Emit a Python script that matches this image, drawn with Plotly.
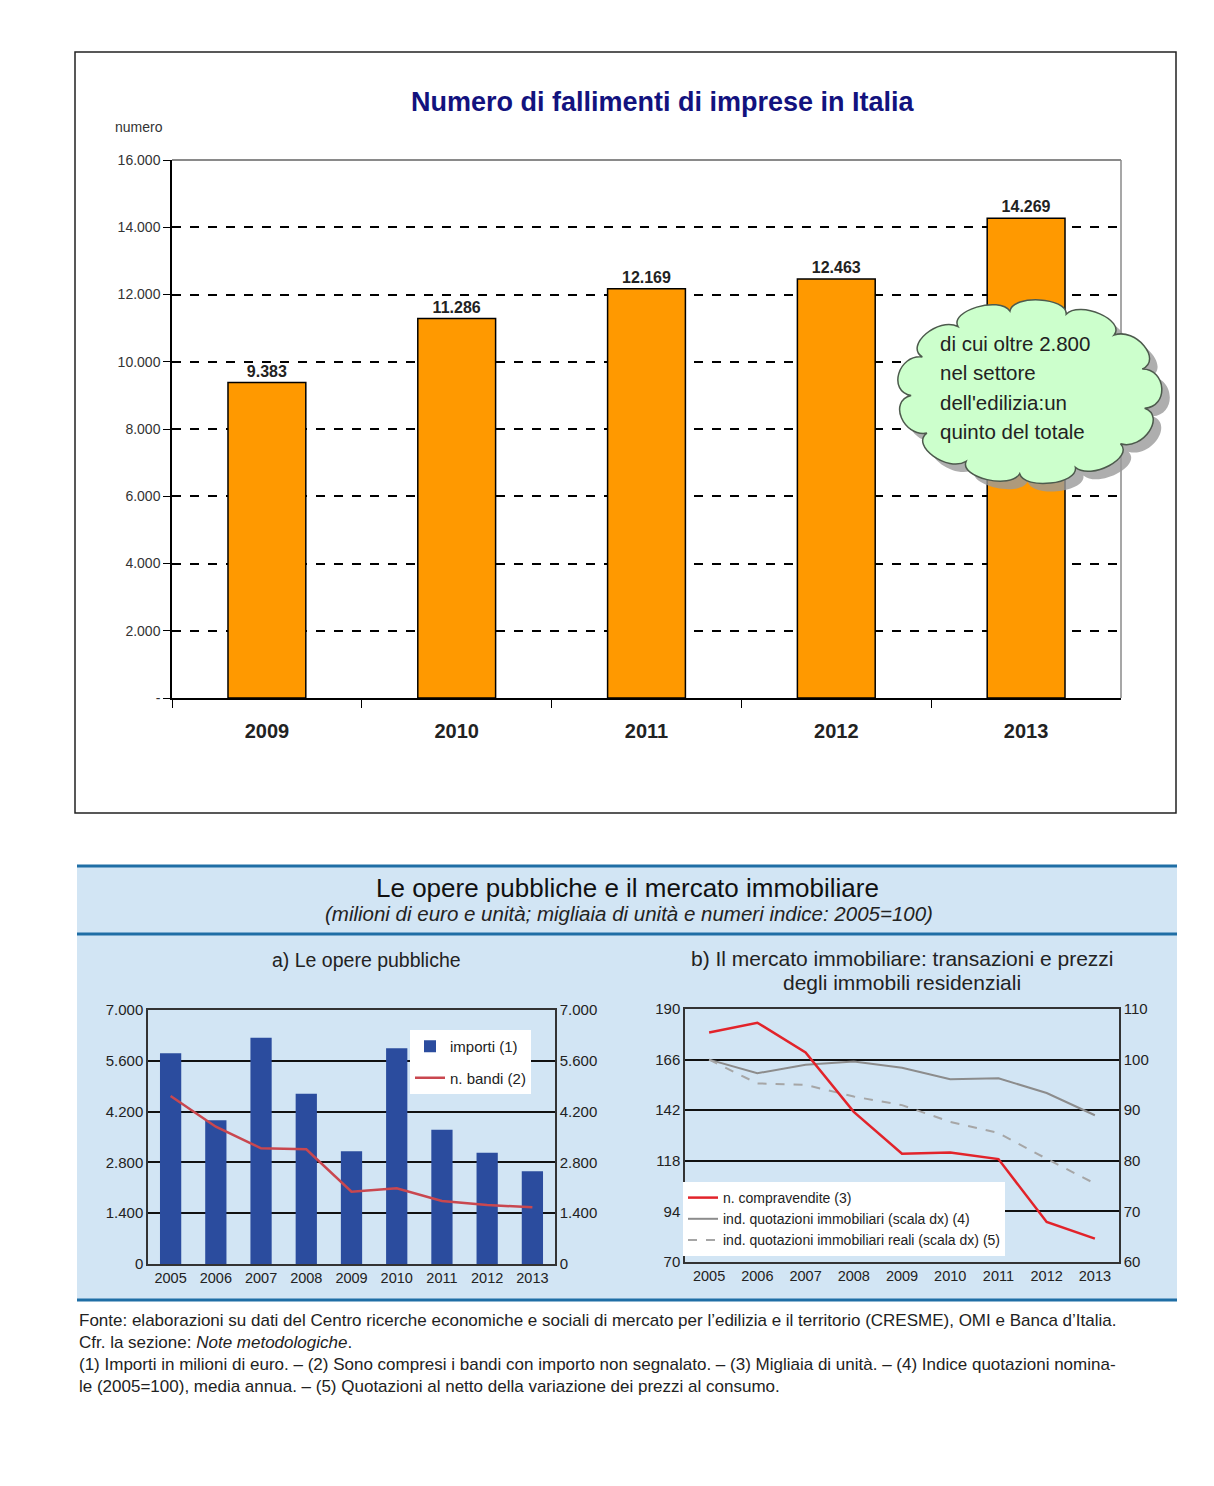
import math
import plotly.graph_objects as go

PAGE_MARGIN = 8
W, H = 1214 - 2 * PAGE_MARGIN, 1486 - 2 * PAGE_MARGIN

# ---------------- data ----------------
anni_fall = ["2009", "2010", "2011", "2012", "2013"]
fallimenti = [9383, 11286, 12169, 12463, 14269]
fall_tickvals = [0, 2000, 4000, 6000, 8000, 10000, 12000, 14000, 16000]
fall_ticktext = ["-", "2.000", "4.000", "6.000", "8.000", "10.000", "12.000", "14.000", "16.000"]

anni = ["2005", "2006", "2007", "2008", "2009", "2010", "2011", "2012", "2013"]
importi = [5806, 3960, 6237, 4694, 3105, 5943, 3702, 3068, 2554]
bandi = [4630, 3785, 3188, 3160, 1993, 2085, 1736, 1626, 1562]
opere_ticks = [0, 1400, 2800, 4200, 5600, 7000]

compravendite = [178.9, 183.5, 169.4, 141.2, 121.4, 121.9, 118.8, 89.0, 81.1]
quotazioni = [100.0, 97.3, 99.0, 99.6, 98.4, 96.1, 96.3, 93.4, 89.0]
quotazioni_reali = [100.0, 95.3, 95.0, 92.7, 91.0, 87.7, 85.5, 80.4, 75.5]
left_ticks_b = [70, 94, 118, 142, 166, 190]
right_ticks_b = [60, 70, 80, 90, 100, 110]

cloud_lines = ["di cui oltre 2.800", "nel settore", "dell'edilizia:un", "quinto del totale"]


def px(x):
    return (x - PAGE_MARGIN) / W


def py(y):
    return 1 - (y - PAGE_MARGIN) / H


FONT = "Liberation Sans, Arial, sans-serif"

fig = go.Figure()

# ---------------- top chart ----------------
fig.add_trace(go.Bar(
    x=anni_fall, y=fallimenti, xaxis="x", yaxis="y",
    marker=dict(color="#FF9900", line=dict(color="#000000", width=1.5)),
    width=0.41, texttemplate="<b>%{y:,}</b>", textposition="outside",
    textfont=dict(family=FONT, size=16, color="#222222"),
    cliponaxis=False, showlegend=False, hoverinfo="skip",
))

# ---------------- bottom-left chart ----------------
fig.add_trace(go.Bar(
    x=anni, y=importi, xaxis="x2", yaxis="y2", name="importi (1)",
    marker=dict(color="#2B4C9E", line=dict(width=0)), width=0.47,
    legend="legend", legendgroup="a1", showlegend=True,
))
fig.add_trace(go.Scatter(
    x=anni, y=bandi, xaxis="x2", yaxis="y3", name="n. bandi (2)",
    mode="lines", line=dict(color="#C9474F", width=2.5),
    legend="legend", legendgroup="a2", showlegend=True,
))

# ---------------- bottom-right chart ----------------
fig.add_trace(go.Scatter(
    x=anni, y=quotazioni, xaxis="x3", yaxis="y4",
    name="ind. quotazioni immobiliari (scala dx) (4)",
    mode="lines", line=dict(color="#8C8C8C", width=2),
    legend="legend2", legendrank=2, legendgroup="b2",
))
fig.add_trace(go.Scatter(
    x=anni, y=quotazioni_reali, xaxis="x3", yaxis="y4",
    name="ind. quotazioni immobiliari reali (scala dx) (5)",
    mode="lines", line=dict(color="#A6A6A6", width=2, dash="dash"),
    legend="legend2", legendrank=3, legendgroup="b3",
))
fig.add_trace(go.Scatter(
    x=anni, y=compravendite, xaxis="x3", yaxis="y5",
    name="n. compravendite (3)",
    mode="lines", line=dict(color="#E2232A", width=2.5),
    legend="legend2", legendrank=1, legendgroup="b1",
))

axis_font = dict(family=FONT, size=15, color="#222222")
xcat_font = dict(family=FONT, size=14.5, color="#222222")

fig.update_layout(
    width=W, height=H,
    margin=dict(l=0, r=0, t=0, b=0, autoexpand=False),
    paper_bgcolor="white", plot_bgcolor="white",
    separators=",.",
    font=dict(family=FONT, color="#222222"),
    xaxis=dict(
        domain=[px(172), px(1121)], anchor="y", type="category", automargin=False,
        showline=True, linecolor="#000000", linewidth=1.5,
        ticks="outside", tickson="boundaries", ticklen=8, tickcolor="#000000",
        ticklabelstandoff=14,
        tickfont=dict(family=FONT, size=20, color="#222222", weight="bold"),
        showgrid=False, fixedrange=True,
    ),
    yaxis=dict(
        domain=[py(698), py(160)], anchor="x", range=[0, 16000], automargin=False,
        tickvals=fall_tickvals, ticktext=fall_ticktext,
        showline=True, linecolor="#000000", linewidth=1.5,
        ticks="outside", ticklen=7, tickcolor="#000000",
        tickfont=dict(family=FONT, size=14, color="#333333"),
        showgrid=True, gridcolor="#000000", gridwidth=1.5, griddash="dash",
        zeroline=False, fixedrange=True,
    ),
    xaxis2=dict(
        domain=[px(148), px(555)], anchor="y2", type="category", automargin=False,
        range=[-0.5, 8.5],
        showline=True, linecolor="#333333", linewidth=1.5, mirror=True,
        ticks="", tickfont=xcat_font, showgrid=False,
    ),
    yaxis2=dict(
        domain=[py(1264), py(1010)], anchor="x2", range=[0, 7000], automargin=False,
        tickvals=opere_ticks, tickformat=",",
        showline=True, linecolor="#333333", linewidth=1.5,
        ticks="", tickfont=axis_font,
        showgrid=True, gridcolor="#111111", gridwidth=1.5, zeroline=False,
    ),
    yaxis3=dict(
        overlaying="y2", side="right", anchor="x2", range=[0, 7000], automargin=False,
        tickvals=opere_ticks, tickformat=",",
        showline=True, linecolor="#333333", linewidth=1.5,
        ticks="", tickfont=axis_font, showgrid=False, zeroline=False,
    ),
    xaxis3=dict(
        domain=[px(685), px(1119)], anchor="y4", type="category", automargin=False,
        range=[-0.5, 8.5],
        showline=True, linecolor="#333333", linewidth=1.5, mirror=True,
        ticks="", tickfont=xcat_font, showgrid=False,
    ),
    yaxis4=dict(
        domain=[py(1262), py(1009)], anchor="x3", side="right", range=[60, 110],
        automargin=False, tickvals=right_ticks_b,
        showline=True, linecolor="#333333", linewidth=1.5,
        ticks="", tickfont=axis_font,
        showgrid=True, gridcolor="#111111", gridwidth=1.5, zeroline=False,
    ),
    yaxis5=dict(
        overlaying="y4", side="left", anchor="x3", range=[70, 190], automargin=False,
        tickvals=left_ticks_b,
        showline=True, linecolor="#333333", linewidth=1.5,
        ticks="", tickfont=axis_font, showgrid=False, zeroline=False,
    ),
    legend=dict(
        x=px(410), y=py(1030), xanchor="left", yanchor="top",
        bgcolor="white", borderwidth=0, font=dict(family=FONT, size=15, color="#222222"),
        itemwidth=30, tracegroupgap=9,
    ),
    legend2=dict(
        x=px(683), y=py(1182), xanchor="left", yanchor="top",
        bgcolor="white", borderwidth=0, font=dict(family=FONT, size=14, color="#222222"),
        itemwidth=30, tracegroupgap=0,
    ),
)

shapes = []
annotations = []

# top box border
shapes.append(dict(type="rect", xref="paper", yref="paper",
                   x0=px(75), x1=px(1176), y0=py(813), y1=py(52),
                   line=dict(color="#222222", width=1.5), layer="above"))
# plot top and right gray border
shapes.append(dict(type="line", xref="x domain", yref="y domain",
                   x0=0, x1=1, y0=1, y1=1, line=dict(color="#8a8a8a", width=2), layer="above"))
shapes.append(dict(type="line", xref="x domain", yref="y domain",
                   x0=1, x1=1, y0=0, y1=1, line=dict(color="#8a8a8a", width=1.5), layer="above"))


# cloud
def cloud_path(cx, cy, rx, ry, n, bump, dx=0, dy=0):
    pts = []
    for i in range(n + 1):
        a = 2 * math.pi * i / n + 0.2
        pts.append((cx + rx * math.cos(a), cy + ry * math.sin(a)))
    d = "M %f,%f" % (px(pts[0][0] + dx), py(pts[0][1] + dy))
    for i in range(n):
        a0 = 2 * math.pi * i / n + 0.2
        a1 = 2 * math.pi * (i + 1) / n + 0.2
        c1 = (cx + rx * bump * math.cos(a0 + (a1 - a0) * 0.1),
              cy + ry * bump * math.sin(a0 + (a1 - a0) * 0.1))
        c2 = (cx + rx * bump * math.cos(a0 + (a1 - a0) * 0.9),
              cy + ry * bump * math.sin(a0 + (a1 - a0) * 0.9))
        p = pts[i + 1]
        d += " C %f,%f %f,%f %f,%f" % (px(c1[0] + dx), py(c1[1] + dy),
                                        px(c2[0] + dx), py(c2[1] + dy),
                                        px(p[0] + dx), py(p[1] + dy))
    return d + " Z"


shapes.append(dict(type="path", xref="paper", yref="paper",
                   path=cloud_path(1029, 392, 118, 82, 13, 1.2, 8, 8),
                   fillcolor="#9a9a9a", line=dict(width=0), layer="above", opacity=0.8))
shapes.append(dict(type="path", xref="paper", yref="paper",
                   path=cloud_path(1029, 392, 118, 82, 13, 1.2),
                   fillcolor="#CCFFCC", line=dict(color="#4d5a4d", width=1.5), layer="above"))

for i, t in enumerate(cloud_lines):
    annotations.append(dict(
        xref="paper", yref="paper", x=px(938), y=py(343 + 29.5 * i),
        xanchor="left", yanchor="middle", text=t, showarrow=False,
        font=dict(family=FONT, size=20.5, color="#222222"),
    ))

# top title
annotations.append(dict(
    xref="paper", yref="paper", x=px(663), y=py(102), xanchor="center", yanchor="middle",
    text="<b>Numero di fallimenti di imprese in Italia</b>", showarrow=False,
    font=dict(family=FONT, size=27, color="#12127E"),
))
annotations.append(dict(
    xref="paper", yref="paper", x=px(113), y=py(127), xanchor="left", yanchor="middle",
    text="numero", showarrow=False, font=dict(family=FONT, size=14, color="#333333"),
))

# bottom panel background and rules
shapes.append(dict(type="rect", xref="paper", yref="paper",
                   x0=px(77), x1=px(1177), y0=py(1300), y1=py(866),
                   fillcolor="#D2E5F4", line=dict(width=0), layer="below"))
for yl in (866, 934, 1300):
    shapes.append(dict(type="line", xref="paper", yref="paper",
                       x0=px(77), x1=px(1177), y0=py(yl), y1=py(yl),
                       line=dict(color="#1F6EA5", width=3), layer="above"))

annotations.append(dict(
    xref="paper", yref="paper", x=px(627), y=py(888), xanchor="center", yanchor="middle",
    text="Le opere pubbliche e il mercato immobiliare", showarrow=False,
    font=dict(family=FONT, size=26, color="#111111"),
))
annotations.append(dict(
    xref="paper", yref="paper", x=px(629), y=py(914), xanchor="center", yanchor="middle",
    text="<i>(milioni di euro e unità; migliaia di unità e numeri indice: 2005=100)</i>",
    showarrow=False, font=dict(family=FONT, size=20.5, color="#222222"),
))
annotations.append(dict(
    xref="paper", yref="paper", x=px(366), y=py(960), xanchor="center", yanchor="middle",
    text="a) Le opere pubbliche", showarrow=False,
    font=dict(family=FONT, size=19.5, color="#222222"),
))
annotations.append(dict(
    xref="paper", yref="paper", x=px(902), y=py(958), xanchor="center", yanchor="middle",
    text="b) Il mercato immobiliare: transazioni e prezzi",
    showarrow=False, font=dict(family=FONT, size=21, color="#222222"),
))
annotations.append(dict(
    xref="paper", yref="paper", x=px(902), y=py(983), xanchor="center", yanchor="middle",
    text="degli immobili residenziali",
    showarrow=False, font=dict(family=FONT, size=21, color="#222222"),
))

notes = [
    "Fonte: elaborazioni su dati del Centro ricerche economiche e sociali di mercato per l’edilizia e il territorio (CRESME), OMI e Banca d’Italia.",
    "Cfr. la sezione: <i>Note metodologiche</i>.",
    "(1) Importi in milioni di euro. – (2) Sono compresi i bandi con importo non segnalato. – (3) Migliaia di unità. – (4) Indice quotazioni nomina-",
    "le (2005=100), media annua. – (5) Quotazioni al netto della variazione dei prezzi al consumo.",
]
annotations.append(dict(
    xref="paper", yref="paper", x=px(77), y=py(1309),
    xanchor="left", yanchor="top", text="<br>".join(notes), showarrow=False,
    align="left", font=dict(family=FONT, size=17, color="#222222"),
))

fig.update_layout(shapes=shapes, annotations=annotations)
fig.write_html("out.html")
